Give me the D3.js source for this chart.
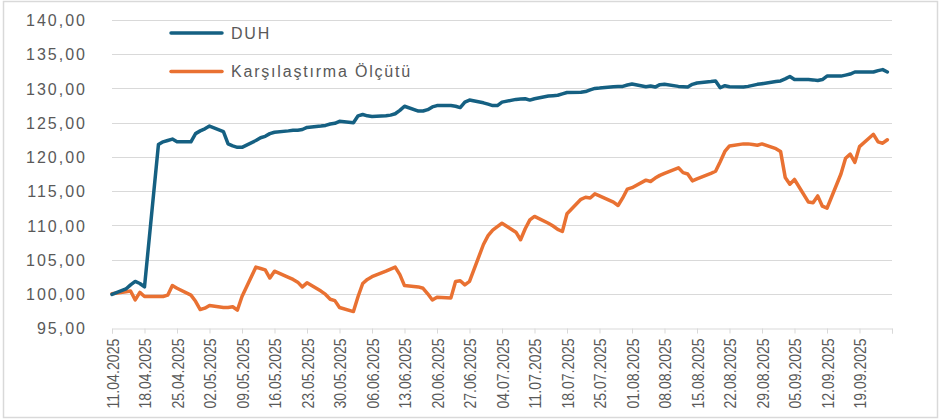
<!DOCTYPE html>
<html>
<head>
    <meta charset="UTF-8">
    <title>DUH - Karşılaştırma Ölçütü</title>
    <style>
        body { margin: 0; background: #fff; }
        .grid line { stroke: #d9d9d9; stroke-width: 1; }
        .y.axis text { font-family: "Liberation Sans", Arial, sans-serif; font-size: 16px; letter-spacing: 2px; fill: #595959; }
        .x.axis text { font-family: "Liberation Sans", Arial, sans-serif; font-size: 17px; fill: #595959; }
        .x.axis line, .x.axis path { stroke: #d9d9d9; }
        .legend text { font-family: "Liberation Sans", Arial, sans-serif; font-size: 16px; letter-spacing: 1.8px; fill: #595959; }
    </style>
</head>
<body>
<script src="https://cdn.jsdelivr.net/npm/d3@7/dist/d3.min.js"></script>
<script>
    // data
    var dates = [
        "11.04.2025",
        "14.04.2025", "15.04.2025", "16.04.2025", "17.04.2025", "18.04.2025",
        "21.04.2025", "22.04.2025", "23.04.2025", "24.04.2025", "25.04.2025",
        "28.04.2025", "29.04.2025", "30.04.2025", "01.05.2025", "02.05.2025",
        "05.05.2025", "06.05.2025", "07.05.2025", "08.05.2025", "09.05.2025",
        "12.05.2025", "13.05.2025", "14.05.2025", "15.05.2025", "16.05.2025",
        "19.05.2025", "20.05.2025", "21.05.2025", "22.05.2025", "23.05.2025",
        "26.05.2025", "27.05.2025", "28.05.2025", "29.05.2025", "30.05.2025",
        "02.06.2025", "03.06.2025", "04.06.2025", "05.06.2025", "06.06.2025",
        "09.06.2025", "10.06.2025", "11.06.2025", "12.06.2025", "13.06.2025",
        "16.06.2025", "17.06.2025", "18.06.2025", "19.06.2025", "20.06.2025",
        "23.06.2025", "24.06.2025", "25.06.2025", "26.06.2025", "27.06.2025",
        "30.06.2025", "01.07.2025", "02.07.2025", "03.07.2025", "04.07.2025",
        "07.07.2025", "08.07.2025", "09.07.2025", "10.07.2025", "11.07.2025",
        "14.07.2025", "15.07.2025", "16.07.2025", "17.07.2025", "18.07.2025",
        "21.07.2025", "22.07.2025", "23.07.2025", "24.07.2025", "25.07.2025",
        "28.07.2025", "29.07.2025", "30.07.2025", "31.07.2025", "01.08.2025",
        "04.08.2025", "05.08.2025", "06.08.2025", "07.08.2025", "08.08.2025",
        "11.08.2025", "12.08.2025", "13.08.2025", "14.08.2025", "15.08.2025",
        "18.08.2025", "19.08.2025", "20.08.2025", "21.08.2025", "22.08.2025",
        "25.08.2025", "26.08.2025", "27.08.2025", "28.08.2025", "29.08.2025",
        "01.09.2025", "02.09.2025", "03.09.2025", "04.09.2025", "05.09.2025",
        "08.09.2025", "09.09.2025", "10.09.2025", "11.09.2025", "12.09.2025",
        "15.09.2025", "16.09.2025", "17.09.2025", "18.09.2025", "19.09.2025",
        "22.09.2025", "23.09.2025", "24.09.2025", "25.09.2025"
    ];

    var duh = [
        99.9,
        100.7, 101.3, 101.8, 101.5, 101.0,
        121.8, 122.2, 122.4, 122.6, 122.2,
        122.2, 123.4, 123.8, 124.1, 124.5,
        123.7, 121.9, 121.6, 121.4, 121.4,
        122.4, 122.8, 123.0, 123.4, 123.6,
        123.8, 123.9, 123.9, 124.0, 124.3,
        124.5, 124.6, 124.8, 124.9, 125.2,
        125.0, 126.0, 126.2, 126.0, 125.9,
        126.0, 126.1, 126.3, 126.8, 127.4,
        126.7, 126.7, 126.9, 127.3, 127.5,
        127.5, 127.4, 127.2, 128.0, 128.3,
        127.9, 127.7, 127.5, 127.5, 128.0,
        128.4, 128.45, 128.5, 128.3, 128.5,
        128.9, 128.95, 129.0, 129.2, 129.4,
        129.45, 129.55, 129.8, 130.0, 130.05,
        130.25, 130.3, 130.3, 130.5, 130.65,
        130.25, 130.35, 130.2, 130.55, 130.6,
        130.3, 130.25, 130.2, 130.6, 130.8,
        131.0, 131.1, 130.1, 130.4, 130.25,
        130.2, 130.3, 130.45, 130.6, 130.7,
        131.0, 131.1, 131.4, 131.75, 131.3,
        131.3, 131.25, 131.15, 131.3, 131.8,
        131.8, 131.95, 132.1, 132.4, 132.4,
        132.4, 132.6, 132.75, 132.4
    ];

    var olcut = [
        100.0,
        100.3, 100.4, 99.1, 100.2, 99.6,
        99.6, 99.6, 99.8, 101.2, 100.8,
        99.8, 98.9, 97.7, 97.9, 98.3,
        98.0, 98.0, 98.1, 97.6, 99.6,
        103.9, 103.7, 103.5, 102.3, 103.3,
        102.4, 102.1, 101.7, 101.0, 101.6,
        100.4, 99.9, 99.2, 99.0, 98.0,
        97.4, 99.6, 101.5, 102.1, 102.5,
        103.3, 103.6, 103.9, 102.8, 101.2,
        101.0, 100.8, 100.0, 99.1, 99.5,
        99.4, 101.8, 101.9, 101.3, 101.8,
        107.2, 108.5, 109.3, 109.8, 110.3,
        109.0, 107.9, 109.5, 110.8, 111.3,
        110.3, 109.9, 109.4, 109.1, 111.7,
        113.8, 114.1, 114.0, 114.6, 114.3,
        113.4, 112.9, 114.0, 115.3, 115.5,
        116.6, 116.4, 116.9, 117.3, 117.6,
        118.4, 117.7, 117.5, 116.5, 116.8,
        117.6, 117.9, 119.3, 120.8, 121.6,
        121.9, 121.9, 121.8, 121.7, 121.9,
        121.2, 120.8, 117.0, 116.0, 116.7,
        113.4, 113.3, 114.3, 112.8, 112.5,
        117.5, 119.8, 120.4, 119.2, 121.5,
        123.3, 122.2, 122.0, 122.5
    ];

    var seriesNames = ["DUH", "Karşılaştırma Ölçütü"];
    var seriesColors = ["#156082", "#e97132"];
    var yTicks = [95, 100, 105, 110, 115, 120, 125, 130, 135, 140];
    var axisStart = "11.04.2025", axisEnd = "26.09.2025";

    var parseDate = d3.timeParse("%d.%m.%Y");
    var formatDate = d3.timeFormat("%d.%m.%Y");
    var trLocale = d3.formatLocale({decimal: ",", thousands: ".", grouping: [3], currency: ["", " TL"]});
    var formatY = trLocale.format(".2f");

    var width = 940, height = 419;
    var plot = {left: 112, right: 892, top: 20, bottom: 328};

    var svg = d3.select("body").append("svg")
        .attr("width", width)
        .attr("height", height);

    // chart border
    svg.append("rect")
        .attr("x", 3.5).attr("y", 1.5)
        .attr("width", 934).attr("height", 416)
        .attr("fill", "none")
        .attr("stroke", "#d9d9d9")
        .attr("stroke-width", 1.5);

    var xScale = d3.scaleTime()
        .domain([parseDate(axisStart), parseDate(axisEnd)])
        .range([plot.left, plot.right]);

    var yScale = d3.scaleLinear()
        .domain([95, 140])
        .range([plot.bottom, plot.top]);

    // horizontal gridlines
    svg.append("g")
        .attr("class", "grid")
        .selectAll("line")
        .data(yTicks.slice(1))
        .enter().append("line")
        .attr("x1", plot.left)
        .attr("x2", plot.right)
        .attr("y1", function (d) { return Math.round(yScale(d)) + 0.5; })
        .attr("y2", function (d) { return Math.round(yScale(d)) + 0.5; });

    // y axis (labels only)
    var yAxis = svg.append("g")
        .attr("class", "y axis")
        .attr("transform", "translate(" + (plot.left - 25) + ",0)")
        .call(d3.axisLeft(yScale).tickValues(yTicks).tickFormat(formatY).tickSize(0).tickPadding(0));
    yAxis.select(".domain").remove();
    yAxis.selectAll("text").attr("dy", "0.36em");

    // x axis, weekly ticks on fridays
    var lastDate = parseDate(dates[dates.length - 1]);
    var xTicks = d3.timeFriday.range(xScale.domain()[0], d3.timeDay.offset(xScale.domain()[1], 1));
    var xAxis = svg.append("g")
        .attr("class", "x axis")
        .attr("transform", "translate(0," + (plot.bottom + 0.5) + ")")
        .call(d3.axisBottom(xScale)
            .tickValues(xTicks)
            .tickSizeOuter(0)
            .tickSize(5)
            .tickFormat(function (d) { return d <= lastDate ? formatDate(d) : ""; }));
    // narrow labels like the original
    xAxis.selectAll("text")
        .attr("transform", "rotate(-90)")
        .attr("text-anchor", "end")
        .attr("x", -10)
        .attr("y", 0)
        .attr("dy", "0.36em")
        .filter(function (d) { return d <= lastDate; })
        .attr("textLength", 70)
        .attr("lengthAdjust", "spacingAndGlyphs");

    // lines
    var rows = dates.map(function (d, i) {
        return {date: parseDate(d), duh: duh[i], olcut: olcut[i]};
    });

    var line = function (key) {
        return d3.line()
            .x(function (d) { return xScale(d.date); })
            .y(function (d) { return yScale(d[key]); });
    };

    svg.append("path")
        .datum(rows)
        .attr("fill", "none")
        .attr("stroke", seriesColors[1])
        .attr("stroke-width", 3.5)
        .attr("stroke-linejoin", "round")
        .attr("stroke-linecap", "round")
        .attr("d", line("olcut"));

    svg.append("path")
        .datum(rows)
        .attr("fill", "none")
        .attr("stroke", seriesColors[0])
        .attr("stroke-width", 3.5)
        .attr("stroke-linejoin", "round")
        .attr("stroke-linecap", "round")
        .attr("d", line("duh"));

    // legend
    var legend = svg.append("g")
        .attr("class", "legend")
        .selectAll("g")
        .data(seriesNames)
        .enter().append("g")
        .attr("transform", function (d, i) { return "translate(171," + (33 + i * 38.5) + ")"; });

    legend.append("line")
        .attr("x1", 0).attr("x2", 51)
        .attr("stroke", function (d, i) { return seriesColors[i]; })
        .attr("stroke-width", 3.5)
        .attr("stroke-linecap", "round");

    legend.append("text")
        .attr("x", 60)
        .attr("dy", "0.36em")
        .text(function (d) { return d; });
</script>
</body>
</html>
